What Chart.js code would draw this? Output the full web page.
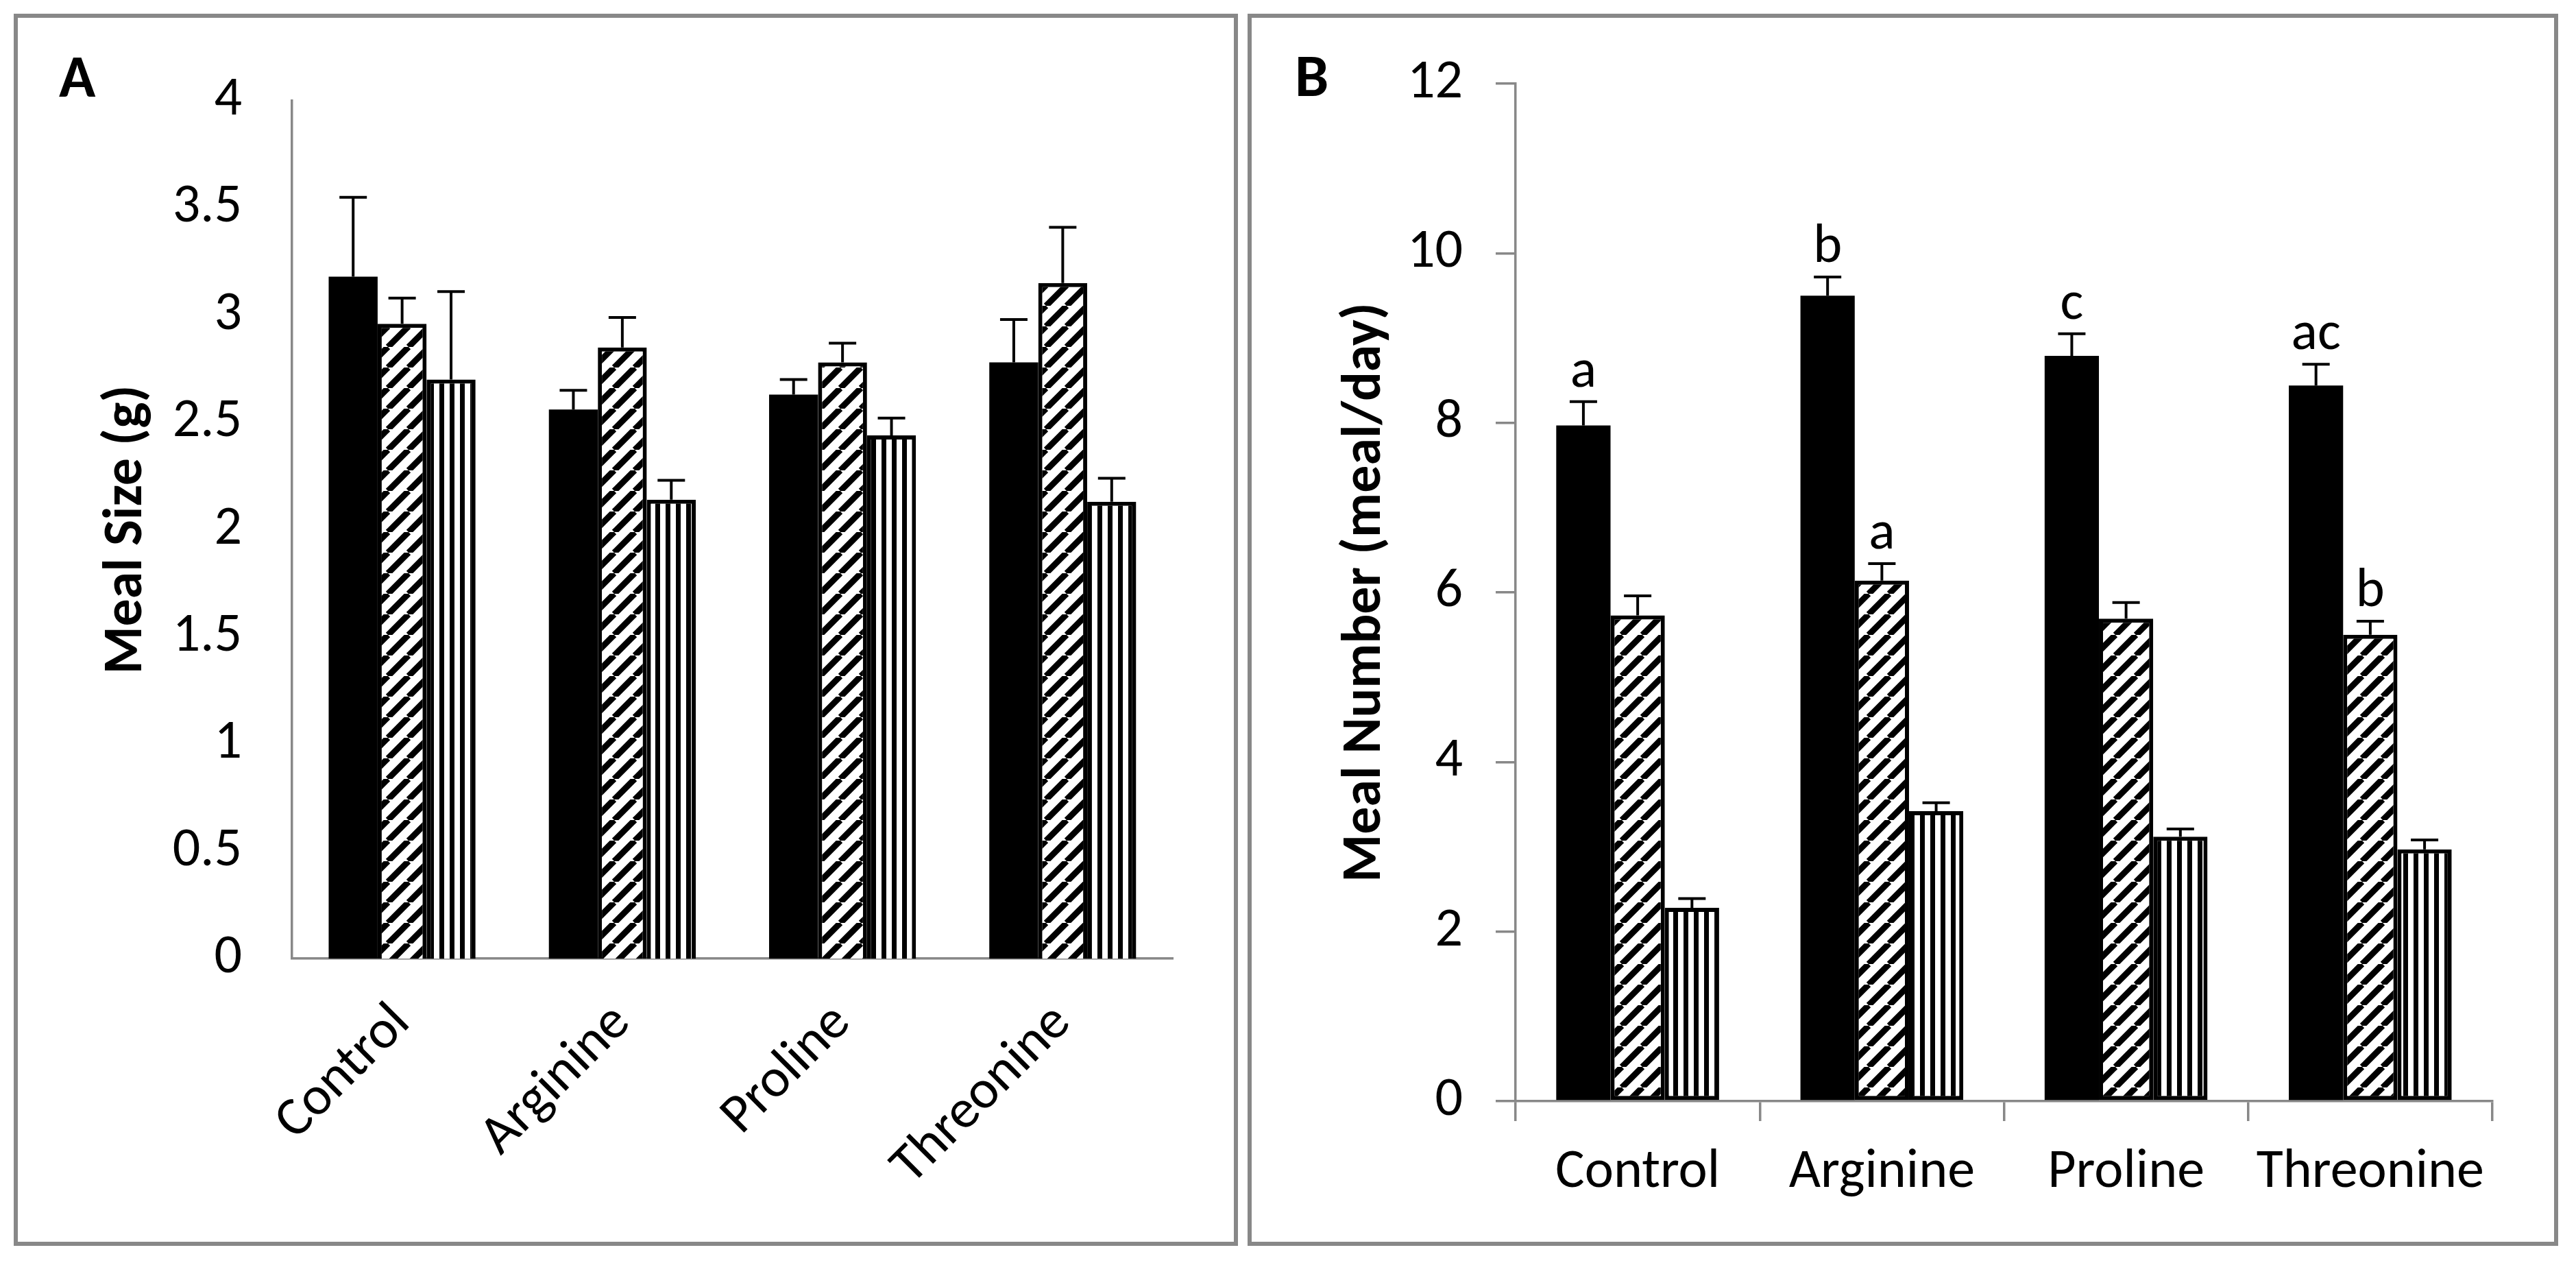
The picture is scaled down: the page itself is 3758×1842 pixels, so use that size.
<!DOCTYPE html>
<html>
<head>
<meta charset="utf-8">
<script src="https://cdn.jsdelivr.net/npm/chart.js@4.4.1/dist/chart.umd.min.js"></script>
<style>
    html, body { margin: 0; padding: 0; background: #fff; width: 3758px; height: 1842px; overflow: hidden; }
    .panel { position: absolute; top: 20px; height: 1797px; border: 6px solid #888; box-sizing: border-box; background: #fff; }
    #pa { left: 20px; width: 1786px; }
    #pb { left: 1820px; width: 1912px; }
    canvas { display: block; }
</style>
</head>
<body>
<div class="panel" id="pa"><canvas id="ca" width="1774" height="1785"></canvas></div>
<div class="panel" id="pb"><canvas id="cb" width="1900" height="1785"></canvas></div>
<script>
var categories = ['Control', 'Arginine', 'Proline', 'Threonine'];

// panel A - meal size (g), means and upper SE
var sizeSolid = [3.18, 2.56, 2.63, 2.78];
var sizeSolidErr = [0.37, 0.09, 0.07, 0.20];
var sizeHatch = [2.96, 2.85, 2.78, 3.15];
var sizeHatchErr = [0.12, 0.14, 0.09, 0.26];
var sizeVert = [2.70, 2.14, 2.44, 2.13];
var sizeVertErr = [0.41, 0.09, 0.08, 0.11];
var sizeTicks = [0, 0.5, 1, 1.5, 2, 2.5, 3, 3.5, 4];

// panel B - meal number (meal/day)
var numSolid = [7.97, 9.50, 8.79, 8.44];
var numSolidErr = [0.28, 0.22, 0.26, 0.25];
var numHatch = [5.73, 6.14, 5.69, 5.50];
var numHatchErr = [0.23, 0.20, 0.19, 0.16];
var numVert = [2.28, 3.42, 3.12, 2.97];
var numVertErr = [0.11, 0.10, 0.09, 0.11];
var numTicks = [0, 2, 4, 6, 8, 10, 12];

// significance letters over the bars of panel B
var numSolidLetters = ['a', 'b', 'c', 'ac'];
var numHatchLetters = ['', 'a', '', 'b'];

var FONT = 'Carlito, Calibri, Lato, sans-serif';
var AXIS_GREY = '#888';

function hatchPattern(ctx) {
    var c = document.createElement('canvas');
    c.width = 30; c.height = 30;
    var g = c.getContext('2d');
    g.fillStyle = '#fff';
    g.fillRect(0, 0, 30, 30);
    g.strokeStyle = '#000';
    g.lineWidth = 9;
    g.beginPath();
    for (var k = -1; k <= 1; k++) {
        g.moveTo(k * 30, 30);
        g.lineTo(k * 30 + 30, 0);
    }
    g.stroke();
    return ctx.createPattern(c, 'repeat');
}

function stripePattern(ctx) {
    var c = document.createElement('canvas');
    c.width = 15; c.height = 15;
    var g = c.getContext('2d');
    g.fillStyle = '#fff';
    g.fillRect(0, 0, 15, 15);
    g.fillStyle = '#000';
    g.fillRect(0, 0, 7, 15);
    return ctx.createPattern(c, 'repeat');
}

var errorBars = {
    id: 'errorBars',
    afterDatasetsDraw: function (chart) {
        var ctx = chart.ctx;
        var yScale = chart.scales.y;
        ctx.save();
        ctx.strokeStyle = '#000';
        ctx.fillStyle = '#000';
        ctx.lineWidth = 4;
        ctx.font = '80px ' + FONT;
        ctx.textAlign = 'center';
        ctx.textBaseline = 'alphabetic';
        chart.data.datasets.forEach(function (ds, i) {
            var meta = chart.getDatasetMeta(i);
            meta.data.forEach(function (bar, j) {
                var top = yScale.getPixelForValue(ds.data[j] + ds.errors[j]);
                ctx.beginPath();
                ctx.moveTo(bar.x, bar.y);
                ctx.lineTo(bar.x, top);
                ctx.moveTo(bar.x - 20, top);
                ctx.lineTo(bar.x + 20, top);
                ctx.stroke();
                if (ds.letters && ds.letters[j]) {
                    ctx.fillText(ds.letters[j], bar.x, top - 22);
                }
            });
        });
        ctx.restore();
    }
};

var panelLabel = {
    id: 'panelLabel',
    afterDraw: function (chart, args, opts) {
        var ctx = chart.ctx;
        ctx.save();
        ctx.fillStyle = '#000';
        ctx.font = 'bold 88px ' + FONT;
        ctx.textAlign = 'left';
        ctx.textBaseline = 'alphabetic';
        ctx.fillText(opts.text, opts.x, opts.y);
        ctx.restore();
    }
};

function makeChart(id, cfg) {
    var canvas = document.getElementById(id);
    var ctx = canvas.getContext('2d');
    var hatch = hatchPattern(ctx);
    var stripes = stripePattern(ctx);
    var skip = cfg.bottomBorder ? false : 'start';

    return new Chart(ctx, {
        type: 'bar',
        data: {
            labels: categories,
            datasets: [{
                data: cfg.solid,
                errors: cfg.solidErr,
                letters: cfg.solidLetters,
                backgroundColor: '#000',
                borderWidth: 0
            }, {
                data: cfg.hatch,
                errors: cfg.hatchErr,
                letters: cfg.hatchLetters,
                backgroundColor: hatch,
                borderColor: '#000',
                borderWidth: 6,
                borderSkipped: skip
            }, {
                data: cfg.vert,
                errors: cfg.vertErr,
                backgroundColor: stripes,
                borderColor: '#000',
                borderWidth: 6,
                borderSkipped: skip
            }]
        },
        options: {
            responsive: false,
            devicePixelRatio: 1,
            animation: false,
            events: [],
            layout: { padding: { top: 88, right: cfg.rightPad, left: 0, bottom: 0 } },
            datasets: { bar: { categoryPercentage: 0.667, barPercentage: 1 } },
            plugins: {
                legend: { display: false },
                tooltip: { enabled: false },
                panelLabel: cfg.label
            },
            scales: {
                x: {
                    grid: cfg.xGrid,
                    border: { color: AXIS_GREY, width: 3.5 },
                    ticks: cfg.xTicks,
                    afterFit: function (s) { s.height = cfg.xHeight; }
                },
                y: {
                    min: cfg.ticks[0],
                    max: cfg.ticks[cfg.ticks.length - 1],
                    grid: cfg.yGrid,
                    border: { color: AXIS_GREY, width: 3.5 },
                    ticks: {
                        color: '#000',
                        font: { family: FONT, size: 80 },
                        padding: cfg.yPad,
                        callback: function (v) { return String(v); }
                    },
                    afterBuildTicks: function (s) {
                        s.ticks = cfg.ticks.map(function (v) { return { value: v }; });
                    },
                    title: {
                        display: true,
                        text: cfg.title,
                        color: '#000',
                        font: { family: FONT, size: 80, weight: 'bold' },
                        padding: { top: cfg.titlePad, bottom: 0 }
                    },
                    afterFit: function (s) { s.width = cfg.yWidth; }
                }
            }
        },
        plugins: [errorBars, panelLabel]
    });
}

makeChart('ca', {
    solid: sizeSolid, solidErr: sizeSolidErr,
    hatch: sizeHatch, hatchErr: sizeHatchErr,
    vert: sizeVert, vertErr: sizeVertErr,
    ticks: sizeTicks,
    title: 'Meal Size (g)',
    titlePad: 112,
    yWidth: 400,
    yPad: 73,
    yGrid: { display: false, drawTicks: false },
    xGrid: { display: false, drawTicks: false },
    xTicks: { color: '#000', font: { family: FONT, size: 80 }, minRotation: 45, maxRotation: 45, padding: 48, autoSkip: false },
    xHeight: 413,
    rightPad: 89,
    bottomBorder: false,
    label: { text: 'A', x: 60, y: 115 }
});

makeChart('cb', {
    solid: numSolid, solidErr: numSolidErr, solidLetters: numSolidLetters,
    hatch: numHatch, hatchErr: numHatchErr, hatchLetters: numHatchLetters,
    vert: numVert, vertErr: numVertErr,
    ticks: numTicks,
    title: 'Meal Number (meal/day)',
    titlePad: 119,
    yWidth: 385,
    yPad: 48,
    yGrid: { drawOnChartArea: false, tickLength: 29, color: AXIS_GREY, lineWidth: 3.5 },
    xGrid: { drawOnChartArea: false, offset: true, tickLength: 29, color: AXIS_GREY, lineWidth: 3.5 },
    xTicks: { color: '#000', font: { family: FONT, size: 80 }, maxRotation: 0, padding: 28, autoSkip: false },
    xHeight: 205,
    rightPad: 90,
    bottomBorder: true,
    label: { text: 'B', x: 63, y: 114 }
});
</script>
</body>
</html>
